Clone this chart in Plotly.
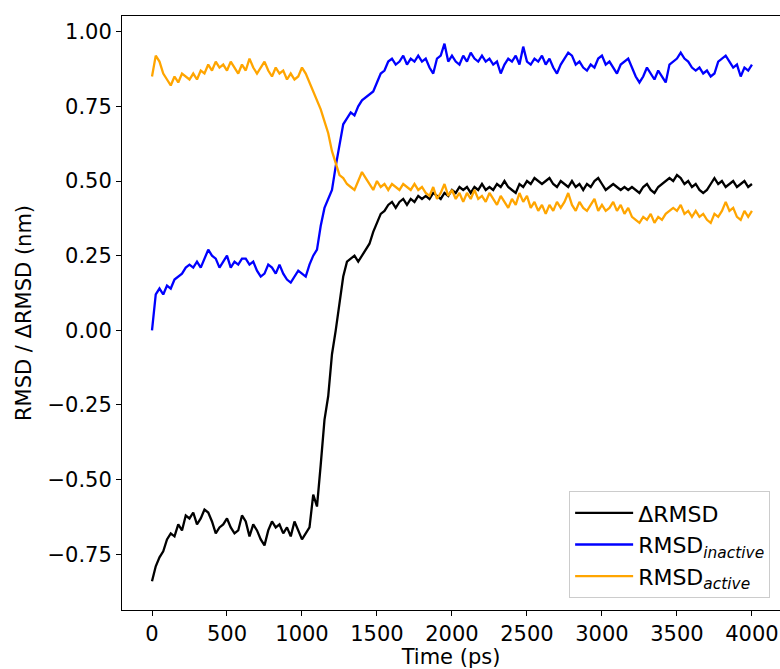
import plotly.graph_objects as go

time_ps = list(range(0, 4001, 25))

delta_rmsd = [
    -0.84, -0.79, -0.76, -0.74, -0.70, -0.68, -0.69, -0.65, -0.67, -0.62,
    -0.63, -0.61, -0.65, -0.63, -0.60, -0.61, -0.64, -0.68, -0.66, -0.65,
    -0.63, -0.66, -0.68, -0.67, -0.62, -0.64, -0.69, -0.65, -0.67, -0.70,
    -0.72, -0.67, -0.64, -0.66, -0.65, -0.68, -0.66, -0.69, -0.64, -0.67,
    -0.70, -0.68, -0.66, -0.55, -0.59, -0.45, -0.30, -0.22, -0.08, 0.00,
    0.10, 0.18, 0.23, 0.24, 0.25, 0.23, 0.25, 0.27, 0.29, 0.33,
    0.36, 0.39, 0.40, 0.42, 0.43, 0.41, 0.43, 0.44, 0.42, 0.44,
    0.43, 0.45, 0.44, 0.45, 0.44, 0.46, 0.45, 0.44, 0.46, 0.45,
    0.47, 0.46, 0.48, 0.47, 0.48, 0.46, 0.48, 0.47, 0.49, 0.47,
    0.48, 0.47, 0.49, 0.48, 0.50, 0.48, 0.47, 0.46, 0.49, 0.48,
    0.50, 0.49, 0.51, 0.50, 0.49, 0.50, 0.51, 0.49, 0.48, 0.50,
    0.49, 0.48, 0.50, 0.48, 0.49, 0.47, 0.49, 0.48, 0.50, 0.51,
    0.49, 0.47, 0.48, 0.49, 0.48, 0.47, 0.48, 0.47, 0.48, 0.47,
    0.46, 0.48, 0.49, 0.47, 0.46, 0.48, 0.49, 0.50, 0.51, 0.50,
    0.52, 0.51, 0.49, 0.50, 0.48, 0.49, 0.47, 0.46, 0.47, 0.49,
    0.51, 0.49, 0.50, 0.48, 0.49, 0.50, 0.48, 0.49, 0.50, 0.48,
    0.49,
]

rmsd_inactive = [
    0.00, 0.12, 0.14, 0.12, 0.15, 0.14, 0.17, 0.18, 0.19, 0.21,
    0.22, 0.21, 0.23, 0.21, 0.24, 0.27, 0.25, 0.24, 0.21, 0.23,
    0.25, 0.21, 0.23, 0.22, 0.24, 0.24, 0.22, 0.23, 0.20, 0.18,
    0.19, 0.22, 0.21, 0.19, 0.22, 0.19, 0.17, 0.16, 0.18, 0.20,
    0.19, 0.18, 0.22, 0.25, 0.27, 0.35, 0.41, 0.44, 0.47, 0.55,
    0.62, 0.69, 0.71, 0.73, 0.72, 0.75, 0.77, 0.78, 0.79, 0.80,
    0.83, 0.86, 0.87, 0.90, 0.91, 0.89, 0.90, 0.92, 0.89, 0.91,
    0.90, 0.92, 0.90, 0.91, 0.88, 0.86, 0.91, 0.92, 0.96, 0.90,
    0.92, 0.90, 0.89, 0.92, 0.90, 0.93, 0.91, 0.90, 0.92, 0.90,
    0.91, 0.89, 0.90, 0.86, 0.89, 0.91, 0.90, 0.92, 0.89, 0.95,
    0.90, 0.89, 0.91, 0.90, 0.92, 0.89, 0.91, 0.88, 0.86, 0.89,
    0.91, 0.93, 0.92, 0.89, 0.90, 0.88, 0.87, 0.89, 0.88, 0.91,
    0.92, 0.89, 0.90, 0.88, 0.86, 0.89, 0.90, 0.91, 0.88, 0.85,
    0.83, 0.85, 0.88, 0.86, 0.84, 0.87, 0.85, 0.83, 0.89, 0.90,
    0.91, 0.93, 0.91, 0.90, 0.88, 0.87, 0.88, 0.86, 0.87, 0.85,
    0.86, 0.90, 0.91, 0.92, 0.90, 0.88, 0.89, 0.85, 0.88, 0.87,
    0.89,
]

rmsd_active = [
    0.85, 0.92, 0.90, 0.86, 0.84, 0.82, 0.85, 0.83, 0.86, 0.85,
    0.84, 0.86, 0.84, 0.87, 0.86, 0.89, 0.87, 0.90, 0.88, 0.89,
    0.87, 0.90, 0.88, 0.86, 0.89, 0.87, 0.91, 0.88, 0.86, 0.88,
    0.90, 0.87, 0.85, 0.88, 0.86, 0.87, 0.84, 0.86, 0.84, 0.85,
    0.88, 0.86, 0.83, 0.80, 0.77, 0.74, 0.70, 0.66, 0.60, 0.56,
    0.52, 0.51, 0.49, 0.48, 0.47, 0.50, 0.53, 0.51, 0.49, 0.47,
    0.50, 0.48, 0.49, 0.47, 0.49, 0.48, 0.47, 0.49, 0.48, 0.47,
    0.49, 0.47, 0.48, 0.46, 0.45, 0.48, 0.44, 0.46, 0.49, 0.45,
    0.47, 0.44, 0.46, 0.43, 0.46, 0.44, 0.47, 0.44, 0.45, 0.43,
    0.46, 0.44, 0.42, 0.45, 0.43, 0.41, 0.44, 0.42, 0.46, 0.43,
    0.45, 0.41, 0.43, 0.40, 0.42, 0.39, 0.42, 0.40, 0.43, 0.41,
    0.43, 0.46, 0.42, 0.40, 0.43, 0.41, 0.40, 0.42, 0.44, 0.40,
    0.42, 0.40, 0.41, 0.43, 0.40, 0.42, 0.39, 0.41, 0.38, 0.37,
    0.36, 0.38, 0.37, 0.39, 0.36, 0.38, 0.37, 0.39, 0.40, 0.41,
    0.40, 0.42, 0.39, 0.40, 0.38, 0.40, 0.38, 0.39, 0.37, 0.36,
    0.39, 0.38, 0.40, 0.43, 0.40, 0.41, 0.38, 0.37, 0.40, 0.38,
    0.40,
]

series_names = ["ΔRMSD", "RMSD<sub><i>inactive</i></sub>", "RMSD<sub><i>active</i></sub>"]
series_colors = ["black", "#0000ff", "#ffa500"]
series_values = [delta_rmsd, rmsd_inactive, rmsd_active]

x_ticks = [0, 500, 1000, 1500, 2000, 2500, 3000, 3500, 4000]
y_ticks = [-0.75, -0.50, -0.25, 0.00, 0.25, 0.50, 0.75, 1.00]

FONT = "DejaVu Sans"
FS = 21

fig = go.Figure()
for name, color, vals in zip(series_names, series_colors, series_values):
    fig.add_trace(go.Scatter(x=time_ps, y=vals, mode="lines", name=name,
                             line=dict(color=color, width=2.3)))

fig.update_layout(
    width=780, height=669,
    margin=dict(l=122, r=0, t=16, b=59, pad=0),
    paper_bgcolor="white", plot_bgcolor="white",
    font=dict(family=FONT, size=FS, color="black"),
    showlegend=True,
    legend=dict(
        x=0.985, y=0.02, xanchor="right", yanchor="bottom",
        bgcolor="white", bordercolor="#cccccc", borderwidth=1,
        font=dict(family=FONT, size=22, color="black"),
        itemwidth=58,
        tracegroupgap=0,
    ),
    xaxis=dict(
        range=[-200, 4187], tickvals=x_ticks, ticktext=[str(v) for v in x_ticks],
        showgrid=False, zeroline=False, showline=True, linecolor="black", linewidth=1,
        mirror=True, ticks="outside", ticklen=5, tickwidth=1, tickcolor="black",
        title=dict(text="Time (ps)", font=dict(family=FONT, size=FS), standoff=5),
    ),
    yaxis=dict(
        range=[-0.9365, 1.0526], tickvals=y_ticks, tickformat=".2f",
        showgrid=False, zeroline=False, showline=True, linecolor="black", linewidth=1,
        mirror=False, ticks="outside", ticklen=5, tickwidth=1, tickcolor="black",
        title=dict(text="RMSD / ΔRMSD (nm)", font=dict(family=FONT, size=FS), standoff=10),
    ),
)

fig.write_html("out.html")
